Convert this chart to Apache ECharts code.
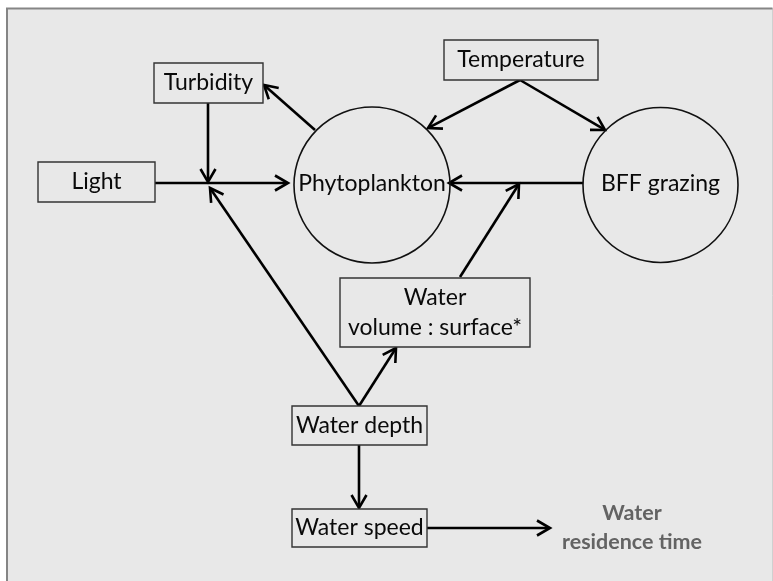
<!DOCTYPE html>
<html><head><meta charset="utf-8">
<script src="https://cdn.jsdelivr.net/npm/echarts@6/dist/echarts.min.js"></script>
<style>html,body{margin:0;padding:0;background:#fff}#c{width:773px;height:581px}</style>
</head><body><div id="c"></div>
<script>
// Diagram coordinates are data units on hidden value axes (0..773 × 0..581).
var boxNames = ['Turbidity', 'Light', 'Temperature', 'Water\nvolume : surface*', 'Water depth', 'Water speed'];
var boxX = [208.5, 96.5, 521, 435, 359.5, 359.5];
var boxY = [83, 182, 60, 312.5, 425.5, 528];
var boxW = [109, 117, 154, 190, 135, 135];
var boxH = [40, 40, 40, 69, 39, 38];

var circleNames = ['Phytoplankton', 'BFF grazing'];
var circleX = [372, 660.5];
var circleY = [185, 185];
var circleR = [78, 77.5];

// arrows: from (x1,y1) to (x2,y2)
var arrowX1 = [155, 208, 359, 315, 520, 520, 583, 460, 359, 359, 427];
var arrowY1 = [183, 103, 406, 130, 80, 80, 183, 277, 406, 445, 528];
var arrowX2 = [288, 208, 210, 264, 428, 605, 449, 519, 396, 359, 550];
var arrowY2 = [183, 182, 188, 85, 128, 130, 183, 184, 348, 508, 528];

var outcomeText = 'Water\nresidence time';
var outcomeX = 632, outcomeY = 527.5;

var FONT = 'Lato';
var chart = echarts.init(document.getElementById('c'), null, {renderer: 'canvas'});

function zip(n, f) { var a = []; for (var i = 0; i < n; i++) a.push(f(i)); return a; }

var option = {
  animation: false,
  backgroundColor: '#ffffff',
  grid: {left: 0, right: 0, top: 0, bottom: 0},
  xAxis: {type: 'value', min: 0, max: 773, show: false},
  yAxis: {type: 'value', min: 0, max: 581, inverse: true, show: false},
  series: [
    { // frame
      type: 'custom', silent: true, z: 0,
      data: [[7, 8.5, 772.5, 600]],
      encode: {x: [0, 2], y: [1, 3]},
      renderItem: function (params, api) {
        var p1 = api.coord([api.value(0), api.value(1)]);
        var p2 = api.coord([api.value(2), api.value(3)]);
        return {type: 'group', children: [
          {type: 'rect', shape: {x: p1[0], y: p1[1], width: p2[0] - p1[0], height: p2[1] - p1[1]},
            style: {fill: '#e8e8e8', stroke: '#d0d0d0', lineWidth: 1}},
          {type: 'polyline', shape: {points: [[p1[0], p2[1]], p1, [p2[0], p1[1]]]},
            style: {fill: null, stroke: '#858585', lineWidth: 2}}
        ]};
      }
    },
    { // arrows
      type: 'custom', silent: true, z: 2,
      data: zip(arrowX1.length, function (i) { return [arrowX1[i], arrowY1[i], arrowX2[i], arrowY2[i]]; }),
      encode: {x: [0, 2], y: [1, 3]},
      renderItem: function (params, api) {
        var a = api.coord([api.value(0), api.value(1)]);
        var b = api.coord([api.value(2), api.value(3)]);
        var dx = b[0] - a[0], dy = b[1] - a[1];
        var L = Math.sqrt(dx * dx + dy * dy);
        var ux = dx / L, uy = dy / L;
        var len = 15, ang = 30 * Math.PI / 180;
        var c = Math.cos(ang), s = Math.sin(ang);
        var l1 = [b[0] - len * (ux * c - uy * s), b[1] - len * (uy * c + ux * s)];
        var l2 = [b[0] - len * (ux * c + uy * s), b[1] - len * (uy * c - ux * s)];
        var st = {stroke: '#000', lineWidth: 2.6, fill: null, lineJoin: 'miter', lineCap: 'butt'};
        return {type: 'group', children: [
          {type: 'line', shape: {x1: a[0], y1: a[1], x2: b[0] - ux * 1.5, y2: b[1] - uy * 1.5}, style: st},
          {type: 'polyline', shape: {points: [l1, b, l2]}, style: st}
        ]};
      }
    },
    { // circles
      type: 'custom', silent: true, z: 3,
      data: zip(circleNames.length, function (i) { return [circleX[i], circleY[i], circleR[i], circleNames[i]]; }),
      encode: {x: 0, y: 1},
      renderItem: function (params, api) {
        var c = api.coord([api.value(0), api.value(1)]);
        var r = api.size([api.value(2), 0])[0];
        return {type: 'group', children: [
          {type: 'circle', shape: {cx: c[0], cy: c[1], r: r}, style: {fill: null, stroke: '#111', lineWidth: 1.6}},
          {type: 'text', x: c[0], y: c[1] - 1, style: {text: circleNames[params.dataIndex], fill: '#0a0a0a',
            font: '23px ' + FONT, align: 'center', verticalAlign: 'middle'}}
        ]};
      }
    },
    { // boxes
      type: 'custom', silent: true, z: 4,
      data: zip(boxNames.length, function (i) { return [boxX[i], boxY[i], boxW[i], boxH[i]]; }),
      encode: {x: 0, y: 1},
      renderItem: function (params, api) {
        var c = api.coord([api.value(0), api.value(1)]);
        var sz = api.size([api.value(2), api.value(3)]);
        return {type: 'group', children: [
          {type: 'rect', shape: {x: c[0] - sz[0] / 2, y: c[1] - sz[1] / 2, width: sz[0], height: sz[1]},
            style: {fill: '#e8e8e8', stroke: '#333', lineWidth: 1.4}},
          {type: 'text', x: c[0], y: c[1], style: {text: boxNames[params.dataIndex], fill: '#0a0a0a',
            font: '23px ' + FONT, align: 'center', verticalAlign: 'middle', lineHeight: 30}}
        ]};
      }
    },
    { // outcome text
      type: 'custom', silent: true, z: 5,
      data: [[outcomeX, outcomeY]],
      encode: {x: 0, y: 1},
      renderItem: function (params, api) {
        var c = api.coord([api.value(0), api.value(1)]);
        return {type: 'text', x: c[0], y: c[1], style: {text: outcomeText, fill: '#636363',
          font: 'bold 21.5px ' + FONT, align: 'center', verticalAlign: 'middle', lineHeight: 29}};
      }
    }
  ]
};
chart.setOption(option);
</script></body></html>
